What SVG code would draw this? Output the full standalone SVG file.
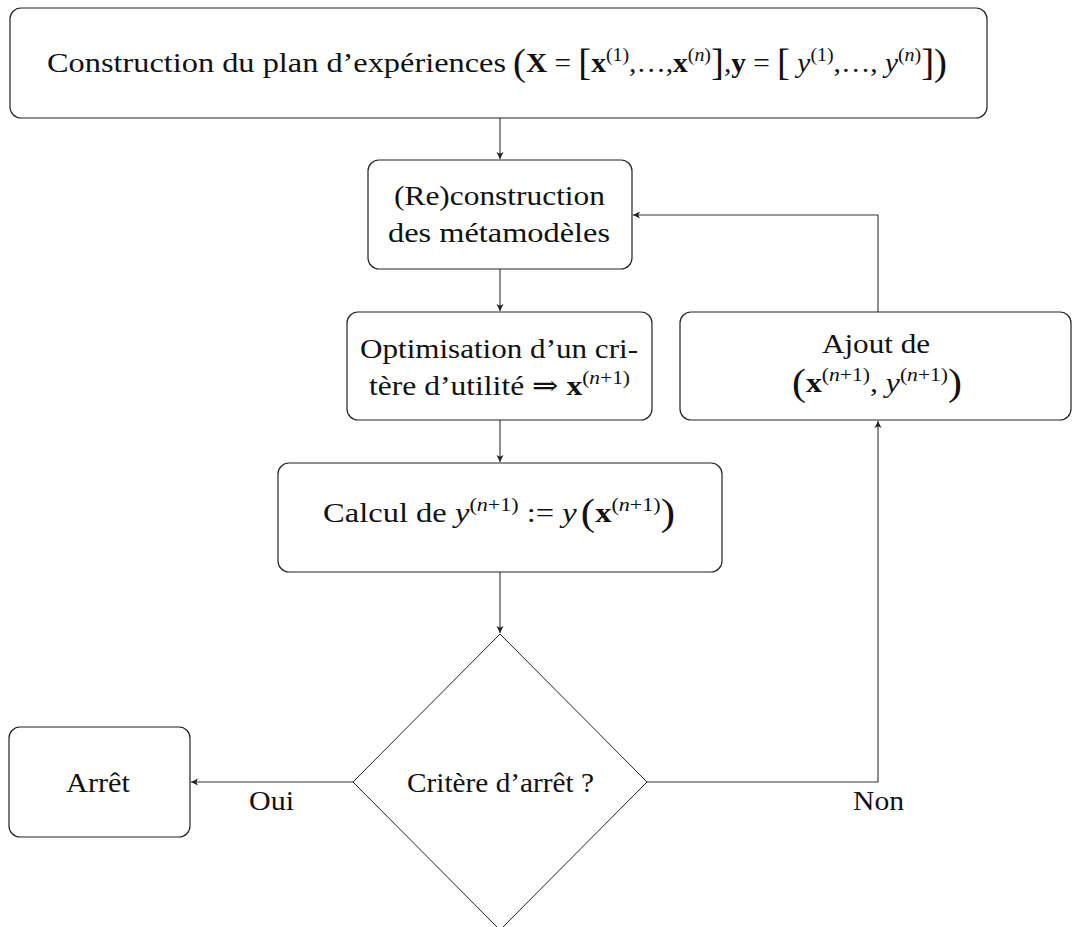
<svg xmlns="http://www.w3.org/2000/svg" width="1073" height="927" viewBox="0 0 1073 927">
<style>
.box{fill:#fff;stroke:#222;stroke-width:1.2}
.con{fill:none;stroke:#333;stroke-width:1.1}
text{font-family:"Liberation Serif","DejaVu Serif",serif;font-size:28px;fill:#111}
.b{font-weight:bold}
.i{font-style:italic}
.sup{font-size:19px}
.big{font-size:37px;font-weight:normal}
</style>
<defs>
<marker id="arr" markerUnits="userSpaceOnUse" markerWidth="10" markerHeight="10" refX="7" refY="4" orient="auto">
<path d="M0,0.5 L7,4 L0,7.5 L1.8,4 Z" fill="#222"/>
</marker>
</defs>
<rect width="1073" height="927" fill="#fff"/>

<g id="connectors">
<line class="con" x1="500" y1="118" x2="500" y2="159" marker-end="url(#arr)"/>
<line class="con" x1="500" y1="269" x2="500" y2="311" marker-end="url(#arr)"/>
<line class="con" x1="500" y1="420" x2="500" y2="462" marker-end="url(#arr)"/>
<line class="con" x1="500" y1="572" x2="500" y2="633" marker-end="url(#arr)"/>
<line class="con" x1="353" y1="782" x2="191" y2="782" marker-end="url(#arr)"/>
<polyline class="con" points="647,782 878,782 878,421" marker-end="url(#arr)"/>
<polyline class="con" points="878,312 878,215 633,215" marker-end="url(#arr)"/>
<text x="249" y="810" textLength="45" lengthAdjust="spacingAndGlyphs">Oui</text>
<text x="853" y="810" textLength="51" lengthAdjust="spacingAndGlyphs">Non</text>
</g>

<g id="n-plan">
<rect class="box" x="10" y="8" width="977" height="110" rx="11"/>
<text x="47" y="72" textLength="459" lengthAdjust="spacingAndGlyphs">Construction du plan d’expériences</text>
<text x="513" y="72" textLength="434" lengthAdjust="spacingAndGlyphs"><tspan class="big" dy="3">(</tspan><tspan class="b" dy="-3">X</tspan> = <tspan class="big" dy="3">[</tspan><tspan class="b" dy="-3">x</tspan><tspan class="sup" dy="-11">(1)</tspan><tspan dy="11">,…,</tspan><tspan class="b">x</tspan><tspan class="sup" dy="-11">(<tspan class="i">n</tspan>)</tspan><tspan class="big" dy="14">]</tspan><tspan dy="-3">,</tspan><tspan class="b">y</tspan> = <tspan class="big" dy="3">[</tspan><tspan class="i" dy="-3"> y</tspan><tspan class="sup" dy="-11">(1)</tspan><tspan dy="11">,…, </tspan><tspan class="i">y</tspan><tspan class="sup" dy="-11">(<tspan class="i">n</tspan>)</tspan><tspan class="big" dy="14">])</tspan></text>
</g>

<g id="n-reconstruction">
<rect class="box" x="368" y="160" width="264" height="109" rx="11"/>
<text x="394" y="205" textLength="211" lengthAdjust="spacingAndGlyphs">(Re)construction</text>
<text x="388" y="242" textLength="222" lengthAdjust="spacingAndGlyphs">des métamodèles</text>
</g>

<g id="n-optimisation">
<rect class="box" x="347" y="312" width="305" height="108" rx="11"/>
<text x="360" y="358" textLength="278" lengthAdjust="spacingAndGlyphs">Optimisation d’un cri-</text>
<text x="369" y="395" textLength="261" lengthAdjust="spacingAndGlyphs">tère d’utilité ⇒ <tspan class="b">x</tspan><tspan class="sup" dy="-11">(<tspan class="i">n</tspan>+1)</tspan></text>
</g>

<g id="n-ajout">
<rect class="box" x="680" y="312" width="391" height="108" rx="11"/>
<text x="822" y="353" textLength="108" lengthAdjust="spacingAndGlyphs">Ajout de</text>
<text x="792" y="392" textLength="170" lengthAdjust="spacingAndGlyphs"><tspan class="big" dy="3">(</tspan><tspan class="b" dy="-3">x</tspan><tspan class="sup" dy="-11">(<tspan class="i">n</tspan>+1)</tspan><tspan dy="11">, </tspan><tspan class="i">y</tspan><tspan class="sup" dy="-11">(<tspan class="i">n</tspan>+1)</tspan><tspan class="big" dy="14">)</tspan></text>
</g>

<g id="n-calcul">
<rect class="box" x="278" y="463" width="444" height="109" rx="11"/>
<text x="323" y="522" textLength="352" lengthAdjust="spacingAndGlyphs">Calcul de <tspan class="i">y</tspan><tspan class="sup" dy="-11">(<tspan class="i">n</tspan>+1)</tspan><tspan dy="11"> := </tspan><tspan class="i">y</tspan><tspan font-size="14"> </tspan><tspan class="big" dy="3">(</tspan><tspan class="b" dy="-3">x</tspan><tspan class="sup" dy="-11">(<tspan class="i">n</tspan>+1)</tspan><tspan class="big" dy="14">)</tspan></text>
</g>

<g id="n-critere">
<polygon points="500,634 647,782 500,930 353,782" fill="#fff" stroke="#222" stroke-width="1"/>
<text x="407" y="792" textLength="187" lengthAdjust="spacingAndGlyphs">Critère d’arrêt ?</text>
</g>

<g id="n-arret">
<rect class="box" x="9" y="727" width="181" height="110" rx="11"/>
<text x="66" y="792" textLength="64" lengthAdjust="spacingAndGlyphs">Arrêt</text>
</g>
</svg>
